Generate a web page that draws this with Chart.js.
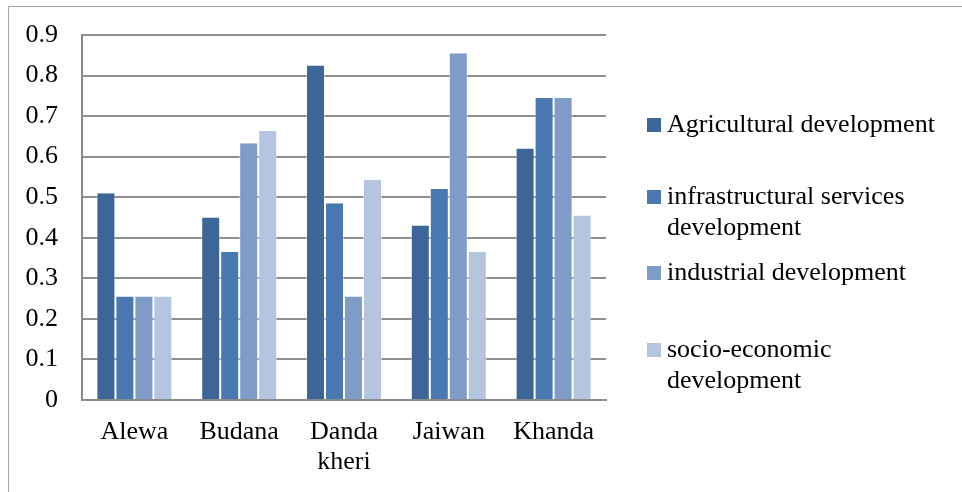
<!DOCTYPE html>
<html>
<head>
<meta charset="utf-8">
<script src="https://cdn.jsdelivr.net/npm/chart.js@4"></script>
<style>
html,body{margin:0;padding:0;background:#fff;}
#wrap{width:962px;height:492px;}
</style>
</head>
<body>
<div id="wrap"><canvas id="c" width="962" height="492"></canvas></div>
<script>
// villages on x axis
const villages=["Alewa","Budana",["Danda","kheri"],"Jaiwan","Khanda"];

// series
const agricultural=[0.51,0.45,0.825,0.43,0.62];
const infrastructural=[0.255,0.365,0.485,0.52,0.745];
const industrial=[0.255,0.633,0.255,0.855,0.745];
const socioEconomic=[0.255,0.663,0.543,0.365,0.455];

const seriesNames=[
["Agricultural development"],
["infrastructural services","development"],
["industrial development"],
["socio-economic","development"]
];
const seriesColors=["#3d6698","#4a79b1","#7f9cc8","#b5c4df"];

const yTicks=[0,0.1,0.2,0.3,0.4,0.5,0.6,0.7,0.8,0.9];

const FONT="Liberation Serif";

// outer frame + legend drawn by hand (legend entries wrap onto two lines)
const framePlugin={
id:"frame",
beforeDraw(chart){
let ctx=chart.ctx;
ctx.save();
ctx.fillStyle="#fff";
ctx.fillRect(0,0,chart.width,chart.height);
ctx.strokeStyle="#a6a6a6";
ctx.lineWidth=1;
ctx.strokeRect(8.5,6.5,chart.width+10,chart.height+10);
ctx.restore();
},
afterDraw(chart){
let ctx=chart.ctx;
ctx.save();
ctx.font="26px 'Liberation Serif'";
ctx.textBaseline="middle";
let itemY=[125,197,273,350];
chart.data.datasets.forEach((ds,i)=>{
let y=itemY[i];
ctx.fillStyle=ds.backgroundColor;
ctx.fillRect(647,y-7,14,14);
ctx.fillStyle="#000";
seriesNames[i].forEach((line,j)=>{
ctx.fillText(line,667,y+j*31);
});
});
ctx.restore();
}
};

const datasets=[agricultural,infrastructural,industrial,socioEconomic].map((d,i)=>({
label:seriesNames[i].join(" "),
data:d,
backgroundColor:seriesColors[i],
borderColor:"rgba(255,255,255,0.5)",
borderWidth:{left:1,right:1,top:0,bottom:0},
categoryPercentage:0.725,
barPercentage:1
}));

new Chart(document.getElementById("c"),{
type:"bar",
data:{labels:villages,datasets:datasets},
options:{
responsive:false,
animation:false,
layout:{padding:{left:8,top:35,right:356,bottom:0}},
plugins:{legend:{display:false},tooltip:{enabled:false}},
scales:{
x:{
grid:{display:false,drawTicks:false},
border:{display:true,color:"#8a8a8a",width:2},
ticks:{color:"#000",font:{family:FONT,size:26,lineHeight:1.15},padding:17,maxRotation:0,autoSkip:false},
afterFit(scale){scale.height=92;scale.paddingLeft=0;scale.paddingRight=0;}
},
y:{
min:0,max:0.9,
afterBuildTicks(scale){scale.ticks=yTicks.map(v=>({value:v}));},
grid:{color:"#8e8e8e",lineWidth:2,drawTicks:false},
border:{display:true,color:"#8a8a8a",width:2},
ticks:{color:"#000",font:{family:FONT,size:26},padding:24,callback:v=>String(Math.round(v*10)/10)},
afterFit(scale){scale.width=74;scale.paddingTop=0;scale.paddingBottom=0;}
}
}
},
plugins:[framePlugin]
});
</script>
</body>
</html>
